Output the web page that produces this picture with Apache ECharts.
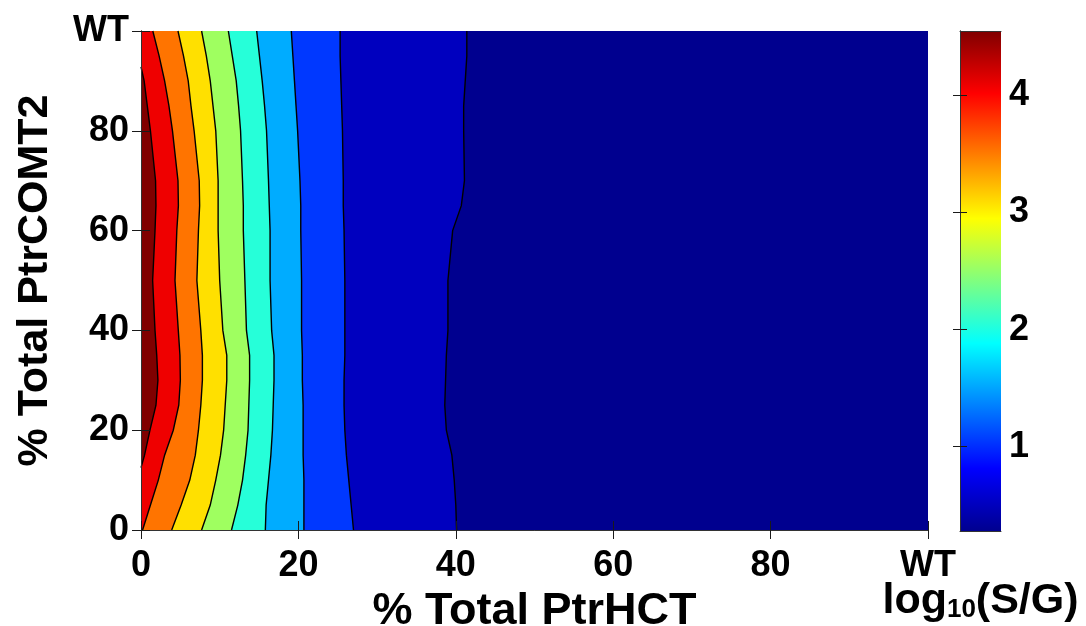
<!DOCTYPE html>
<html><head><meta charset="utf-8">
<script src="https://cdn.jsdelivr.net/npm/echarts@6/dist/echarts.min.js"></script>
<style>html,body{margin:0;padding:0;background:#fff}#c{width:1086px;height:626px}</style>
</head><body><div id="c"></div>
<script>
// ---- data ----
const yKnots = [0,5,10,15,20,25,30,35,40,50,60,65,70,80,85,90,95,100];
const line05 = [40.1,40.0,39.8,39.5,38.8,38.6,38.7,38.8,39.0,39.0,39.6,40.7,41.1,41.0,41.0,41.2,41.4,41.4];
const line10 = [27.0,26.7,26.4,26.1,25.9,25.8,25.8,25.9,25.9,25.9,25.8,25.7,25.7,25.6,25.5,25.4,25.3,25.3];
const line15 = [20.7,20.7,20.7,20.6,20.6,20.6,20.5,20.5,20.4,20.4,20.3,20.3,20.2,19.9,19.7,19.5,19.3,19.1];
const line20 = [15.8,15.9,16.2,16.5,16.7,16.8,16.9,16.9,16.6,16.4,16.4,16.3,16.2,15.95,15.7,15.4,15.05,14.7];
const line25 = [11.5,12.3,12.9,13.3,13.6,13.7,13.8,13.8,13.4,13.2,13.0,13.0,12.9,12.65,12.4,12.1,11.6,11.1];
const line30 = [7.7,8.8,9.5,10.1,10.5,10.7,10.9,10.9,10.4,10.0,9.8,9.8,9.8,9.5,9.15,8.8,8.3,7.7];
const line35 = [3.9,5.1,6.2,6.9,7.3,7.6,7.8,7.8,7.6,7.1,7.3,7.45,7.4,6.75,6.35,6.0,5.4,4.7];
const line40 = [0.2,1.2,2.2,3.0,4.1,4.8,5.0,4.95,4.74,4.32,4.55,4.75,4.7,4.0,3.55,3.0,2.3,1.5];
const yInner45 = [12.5,15,20,25,30,35,40,50,60,65,70,80,85,90,92.8];
const xInner45 = [0,0.45,1.14,1.9,2.15,2.0,1.78,1.48,1.78,1.9,1.85,1.2,0.8,0.4,0];
const levels = [0.5,1.0,1.5,2.0,2.5,3.0,3.5,4.0,4.5];
const xTickValues = [0,20,40,60,80,100];
const yTickValues = [0,20,40,60,80,100];
const wtLabel = 'WT';
const cbMin = 0.28, cbMax = 4.55;
const cbTicks = [1,2,3,4];

// ---- styles ----
const bandColors = ['#00008F','#0000BF','#0038FF','#00ACFF','#26FFD9','#9FFF60','#FFE000','#FF7400','#EF0000','#800000'];
const FONT = '"Liberation Sans", Arial, Helvetica, sans-serif';

const contours = [line05,line10,line15,line20,line25,line30,line35,line40]
  .map(xs => xs.map((x,i) => [x, yKnots[i]]));
contours.push(xInner45.map((x,i) => [x, yInner45[i]]));

const chart = echarts.init(document.getElementById('c'), null, {renderer:'canvas'});

function fillItem(params, api){
  const k = api.value(0);
  if (k < 0) {
    const p0 = api.coord([0,0]), p1 = api.coord([100,100]);
    return {type:'rect', shape:{x:p0[0], y:p1[1], width:p1[0]-p0[0], height:p0[1]-p1[1]},
            style:{fill:bandColors[0]}};
  }
  const c = contours[k];
  const pts = c.map(p => api.coord(p));
  pts.push(api.coord([0, c[c.length-1][1]]));
  pts.push(api.coord([0, c[0][1]]));
  return {type:'polygon', shape:{points:pts}, style:{fill:bandColors[k+1]}};
}
function lineItem(params, api){
  const k = api.value(0);
  const pts = contours[k].map(p => api.coord(p));
  return {type:'polyline', shape:{points:pts}, style:{stroke:'#000', lineWidth:1.4, fill:null}};
}
function cbItem(params, api){
  const p0 = api.coord([0, cbMin]), p1 = api.coord([1, cbMax]);
  return {type:'rect', shape:{x:p0[0], y:p1[1], width:p1[0]-p0[0], height:p0[1]-p1[1]},
    style:{fill:new echarts.graphic.LinearGradient(0,1,0,0,[
      {offset:0,color:'#00008F'},{offset:0.125,color:'#0000FF'},{offset:0.375,color:'#00FFFF'},
      {offset:0.625,color:'#FFFF00'},{offset:0.875,color:'#FF0000'},{offset:1,color:'#800000'}])}};
}

const tickStyle = {show:true, inside:true, length:9, lineStyle:{color:'#1a1a1a', width:1}};
const axisLineStyle = {show:true, lineStyle:{color:'#333', width:1}};
const labelStyle = {color:'#000', fontFamily:FONT, fontWeight:'bold', fontSize:36};
const nameStyle = {color:'#000', fontFamily:FONT, fontWeight:'bold', fontSize:45};
const AZ = 10;

chart.setOption({
  animation:false,
  backgroundColor:'#fff',
  grid:[
    {left:141, top:31, width:787, height:499, show:false, outerBoundsMode:'none', containLabel:false},
    {left:960, top:31, width:41, height:500, show:false, outerBoundsMode:'none', containLabel:false}
  ],
  xAxis:[
    {type:'value', gridIndex:0, min:0, max:100, position:'bottom', z:AZ,
     axisLine:axisLineStyle, axisTick:Object.assign({customValues:xTickValues}, tickStyle),
     axisLabel:Object.assign({customValues:xTickValues, margin:18, formatter:v => v===100 ? wtLabel : String(v)}, labelStyle),
     splitLine:{show:false},
     name:'% Total PtrHCT', nameLocation:'middle', nameGap:48, nameTextStyle:nameStyle},
    {type:'value', gridIndex:0, min:0, max:100, position:'top', z:AZ,
     axisLine:axisLineStyle, axisTick:Object.assign({customValues:xTickValues}, tickStyle),
     axisLabel:{show:false}, splitLine:{show:false}},
    {type:'value', gridIndex:1, min:0, max:1, position:'bottom', z:AZ,
     axisLine:axisLineStyle, axisTick:{show:false}, axisLabel:{show:false}, splitLine:{show:false},
     name:'{m|log}{s|10}{m|(S/G)}', nameLocation:'middle', nameGap:48,
     nameTextStyle:{rich:{
       m:{color:'#000', fontFamily:FONT, fontWeight:'bold', fontSize:43, lineHeight:44},
       s:{color:'#000', fontFamily:FONT, fontWeight:'bold', fontSize:26, lineHeight:20, verticalAlign:'bottom'}}}},
    {type:'value', gridIndex:1, min:0, max:1, position:'top', z:AZ,
     axisLine:axisLineStyle, axisTick:{show:false}, axisLabel:{show:false}, splitLine:{show:false}}
  ],
  yAxis:[
    {type:'value', gridIndex:0, min:0, max:100, position:'left', z:AZ,
     axisLine:axisLineStyle, axisTick:Object.assign({customValues:yTickValues}, tickStyle),
     axisLabel:Object.assign({customValues:yTickValues, margin:12, formatter:v => v===100 ? wtLabel : String(v)}, labelStyle),
     splitLine:{show:false},
     name:'% Total PtrCOMT2', nameLocation:'middle', nameGap:84, nameTextStyle:Object.assign({}, nameStyle, {fontSize:43})},
    {type:'value', gridIndex:0, min:0, max:100, position:'right', z:AZ,
     axisLine:axisLineStyle, axisTick:Object.assign({customValues:yTickValues}, tickStyle),
     axisLabel:{show:false}, splitLine:{show:false}},
    {type:'value', gridIndex:1, min:cbMin, max:cbMax, position:'right', z:AZ,
     axisLine:axisLineStyle, axisTick:Object.assign({customValues:cbTicks}, tickStyle, {length:7}),
     axisLabel:Object.assign({customValues:cbTicks, margin:8}, labelStyle),
     splitLine:{show:false}},
    {type:'value', gridIndex:1, min:cbMin, max:cbMax, position:'left', z:AZ,
     axisLine:axisLineStyle, axisTick:Object.assign({customValues:cbTicks}, tickStyle, {length:7}),
     axisLabel:{show:false}, splitLine:{show:false}}
  ],
  series:[
    {type:'custom', xAxisIndex:0, yAxisIndex:0, renderItem:fillItem, z:1,
     data:[-1].concat(contours.map((c,i)=>i)).map(v=>[v]), silent:true},
    {type:'custom', xAxisIndex:0, yAxisIndex:0, renderItem:lineItem, z:2,
     data:contours.map((c,i)=>[i]), silent:true},
    {type:'custom', xAxisIndex:2, yAxisIndex:2, renderItem:cbItem, z:1,
     data:[[0]], silent:true}
  ]
});
</script></body></html>
